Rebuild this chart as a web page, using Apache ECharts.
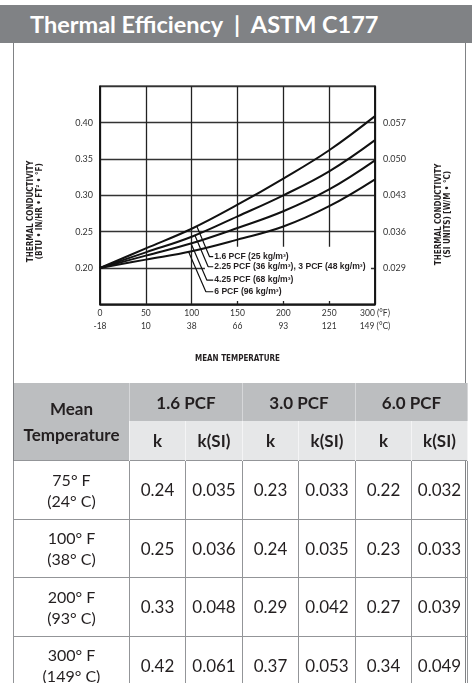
<!DOCTYPE html>
<html>
<head>
<meta charset="utf-8">
<script src="https://cdn.jsdelivr.net/npm/echarts@6/dist/echarts.min.js"></script>
<style>
  html, body { margin:0; padding:0; background:#fff; }
  body { width:472px; height:683px; position:relative; overflow:hidden; font-family: Lato, "Noto Sans", sans-serif; }
  #hdr { position:absolute; left:0; top:5px; width:472px; height:38px; background:#808285; color:#fff;
         font: bold 23.5px Lato, "Noto Sans", sans-serif; line-height:38px; box-sizing:border-box; padding-left:30px; white-space:pre; }
  #panel { position:absolute; left:13px; top:43px; width:451px; height:650px; border-left:1.5px solid #808285; border-right:1.5px solid #808285; }
  #chart { position:absolute; left:0; top:0; width:472px; height:683px; }
  table { position:absolute; left:13px; top:383px; width:454px; border-collapse:collapse; table-layout:fixed; color:#231f20; }
  td, th { text-align:center; vertical-align:middle; padding:0; }
  th { font-weight:bold; font-size:17px; }
  .h1 { background:#bcbec0; height:38px; border-left:1.5px solid #d6d7d9; border-right:1.5px solid #d6d7d9; }
  .h2 { background:#e6e7e8; height:39px; border-left:1.5px solid #f4f4f5; border-right:1.5px solid #f4f4f5; }
  .hm { background:#bcbec0; line-height:26px; border-left:1.5px solid #808285; }
  td { font-size:17px; height:57.5px; border:1.5px solid #939598; }
  td.t { font-size:16px; line-height:21px; }
</style>
</head>
<body>
<div id="hdr">Thermal Efficiency  |  ASTM C177</div>
<div id="panel"></div>
<div id="chart"></div>
<table id="tbl"></table>
<script>
// ---- chart data ----
const meanTempF = [0, 50, 100, 150, 200, 250, 300];
const pcf16  = [0.200, 0.227, 0.254, 0.287, 0.323, 0.362, 0.409];
const pcf225 = [0.200, 0.2215, 0.243, 0.271, 0.300, 0.333, 0.376];
const pcf425 = [0.200, 0.217, 0.234, 0.255, 0.278, 0.308, 0.348];
const pcf6   = [0.200, 0.2115, 0.223, 0.239, 0.257, 0.285, 0.322];
const curveNames = ['1.6 PCF', '2.25 PCF / 3 PCF', '4.25 PCF', '6 PCF'];
const leaderLabels = ['1.6 PCF (25 kg/m\u00b3)', '2.25 PCF (36 kg/m\u00b3), 3 PCF (48 kg/m\u00b3)', '4.25 PCF (68 kg/m\u00b3)', '6 PCF (96 kg/m\u00b3)'];
// leader lines (annotation polylines): start on curve, bend, end at label
const leader1 = [[105.6, 0.2573], [119.5, 0.2155], [123.5, 0.2155]];
const leader2 = [[103.6, 0.2448], [118.0, 0.2017], [123.5, 0.2017]];
const leader3 = [[99.3, 0.2337], [116.5, 0.1834], [123.5, 0.1834]];
const leader4 = [[96.7, 0.2221], [115.5, 0.1673], [123.5, 0.1673]];
const xTicksF = ['0', '50', '100', '150', '200', '250', '300 (\u00b0F)'];
const xTicksC = ['-18', '10', '38', '66', '93', '121', '149 (\u00b0C)'];
const yTicksLeft = ['0.20', '0.25', '0.30', '0.35', '0.40'];
const yTicksRight = ['0.029', '0.036', '0.043', '0.050', '0.057'];

// ---- table data ----
const tempF = ['75\u00b0 F', '100\u00b0 F', '200\u00b0 F', '300\u00b0 F'];
const tempC = ['(24\u00b0 C)', '(38\u00b0 C)', '(93\u00b0 C)', '(149\u00b0 C)'];
const densities = ['1.6 PCF', '3.0 PCF', '6.0 PCF'];
const k16 = ['0.24', '0.25', '0.33', '0.42'];
const k16si = ['0.035', '0.036', '0.048', '0.061'];
const k30 = ['0.23', '0.24', '0.29', '0.37'];
const k30si = ['0.033', '0.035', '0.042', '0.053'];
const k60 = ['0.22', '0.23', '0.27', '0.34'];
const k60si = ['0.032', '0.033', '0.039', '0.049'];

// build table
(function () {
  const t = document.getElementById('tbl');
  const widths = [116, 56, 57, 56, 57, 56, 56];
  let html = '<colgroup>' + widths.map(w => '<col style="width:' + w + 'px">').join('') + '</colgroup>';
  html += '<tr><th class="hm" rowspan="2">Mean<br>Temperature</th>' +
    densities.map(d => '<th class="h1" colspan="2">' + d + '</th>').join('') + '</tr>';
  html += '<tr>' + densities.map(() => '<th class="h2">k</th><th class="h2">k(SI)</th>').join('') + '</tr>';
  for (let i = 0; i < tempF.length; i++) {
    html += '<tr><td class="t">' + tempF[i] + '<br>' + tempC[i] + '</td>' +
      [k16[i], k16si[i], k30[i], k30si[i], k60[i], k60si[i]].map(v => '<td>' + v + '</td>').join('') + '</tr>';
  }
  t.innerHTML = html;
})();

const chart = echarts.init(document.getElementById('chart'), null, { renderer: 'canvas' });
const pair = arr => meanTempF.map((x, i) => [x, arr[i]]);
const yIdx = v => Math.round((v - 0.20) / 0.05);
const axisNameStyle = { fontFamily: 'DejaVu Sans Condensed, Lato, sans-serif', fontWeight: 'bold', fontSize: 8, color: '#231f20', lineHeight: 9.5 };
const curveSeries = [pcf16, pcf225, pcf425, pcf6].map((arr, i) => ({
  name: curveNames[i], type: 'line', data: pair(arr), smooth: 0.4, showSymbol: false, symbol: 'none', z: 3,
  lineStyle: { color: '#111', width: 2 }, silent: true
}));
const leaderSeries = [leader1, leader2, leader3, leader4].map((arr, i) => ({
  type: 'line', data: arr, showSymbol: false, symbol: 'none', z: 4, silent: true,
  lineStyle: { color: '#111', width: 1.2 },
  endLabel: { show: true, formatter: leaderLabels[i], fontFamily: 'Liberation Sans, Arial, sans-serif', fontWeight: 'bold', fontSize: 8.6, color: '#231f20', distance: 1 }
}));
chart.setOption({
  animation: false,
  grid: { left: 100, top: 86.3, width: 275, height: 218, show: true, borderColor: '#111', borderWidth: 1.5, backgroundColor: 'transparent' },
  xAxis: {
    type: 'value', min: 0, max: 300, interval: 50,
    name: 'MEAN TEMPERATURE', nameLocation: 'middle', nameGap: 50,
    nameTextStyle: axisNameStyle,
    axisLine: { show: true, lineStyle: { color: '#111', width: 1.5 } },
    axisTick: { show: false },
    splitLine: { show: true, lineStyle: { color: '#222', width: 1.3 } },
    axisLabel: { margin: 2, fontSize: 8.5, color: '#333', lineHeight: 13.5, fontFamily: 'Lato, sans-serif',
      formatter: (v) => { const i = Math.round(v / 50); return xTicksF[i] + '\n' + xTicksC[i]; } }
  },
  yAxis: [{
    type: 'value', min: 0.15, max: 0.45, interval: 0.05, position: 'left',
    name: 'THERMAL CONDUCTIVITY\n(BTU \u2022 IN/HR \u2022 FT\u00b2 \u2022 \u00b0F)', nameLocation: 'middle', nameRotate: 90, nameGap: 55,
    nameTextStyle: Object.assign({ padding: [0, 32, 0, 0] }, axisNameStyle),
    axisLine: { show: true, lineStyle: { color: '#111', width: 1.5 } },
    axisTick: { show: false },
    splitLine: { show: true, lineStyle: { color: '#333', width: 1.3 } },
    axisLabel: { margin: 7, fontSize: 9, color: '#333', fontFamily: 'Lato, sans-serif',
      formatter: (v) => { const i = yIdx(v); return (i >= 0 && i < yTicksLeft.length) ? yTicksLeft[i] : ''; } }
  }, {
    type: 'value', min: 0.15, max: 0.45, interval: 0.05, position: 'right',
    name: 'THERMAL CONDUCTIVITY\n(SI UNITS) [W/M \u2022 \u00b0C)', nameLocation: 'middle', nameRotate: 90, nameGap: 59,
    nameTextStyle: Object.assign({ padding: [0, 38, 0, 0] }, axisNameStyle),
    axisLine: { show: true, lineStyle: { color: '#111', width: 1.5 } },
    axisTick: { show: false },
    splitLine: { show: false },
    axisLabel: { margin: 8, fontSize: 9, color: '#333', fontFamily: 'Lato, sans-serif',
      formatter: (v) => { const i = yIdx(v); return (i >= 0 && i < yTicksRight.length) ? yTicksRight[i] : ''; } }
  }],
  series: [{
    type: 'line', data: [], z: 1, silent: true,
    markArea: { silent: true, itemStyle: { color: '#fff', opacity: 1 }, data: [[{ coord: [114.5, 0.2293] }, { coord: [295.6, 0.1545] }]] }
  }].concat(curveSeries, leaderSeries)
});
</script>
</body>
</html>
